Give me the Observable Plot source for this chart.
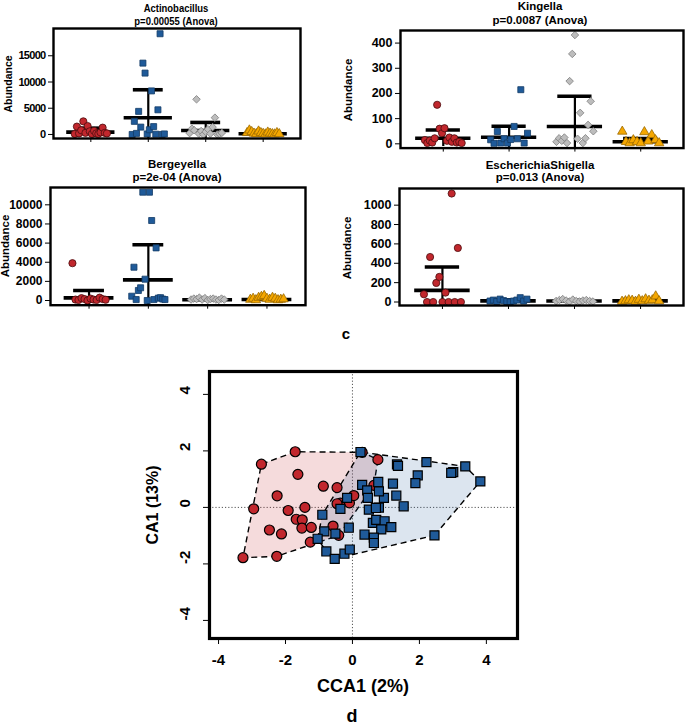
<!DOCTYPE html>
<html><head><meta charset="utf-8">
<script src="https://cdn.jsdelivr.net/npm/d3@7"></script>
<script src="https://cdn.jsdelivr.net/npm/@observablehq/plot@0.6"></script>
<style>
body{margin:0;background:#fff;}
#page{position:relative;width:685px;height:725px;overflow:hidden;font-family:"Liberation Sans",Arial,sans-serif;color:#000;}
.box{position:absolute;}
.t{position:absolute;white-space:nowrap;transform:translate(-50%,-50%);font-weight:bold;line-height:1;}
.rot{transform:translate(-50%,-50%) rotate(-90deg);}
.narrow{transform:translate(-50%,-50%) scaleX(0.86);}
#p0 text{letter-spacing:-0.7px;}
</style></head><body><div id="page"></div>
<script>
// ---------- data: panel c ----------
const taxa = ["Actinobacillus", "Kingella", "Bergeyella", "EscherichiaShigella"];
const pLabels = ["p=0.00055 (Anova)", "p=0.0087 (Anova)", "p=2e-04 (Anova)", "p=0.013 (Anova)"];

const actRed    = [100, 1500, 200, 800, 2500, 300, 1600, 600, 100, 700, 200, 100, 400, 1300, 300, 200];
const actBlue   = [0, 2500, 200, 4400, 1400, 13600, 11700, 100, 900, 8300, 1500, 50, 4700, 19200, 0, 100];
const actGray   = [250, 1100, 800, 6700, 150, 650, 0, 500, 1000, 150, 1400, 3200, 0, 100, 300];
const actOrange = [300, 800, 500, 200, 100, 600, 300, 150, 50, 400, 200, 100, 50, 300, 100];
const actMean = [450, 3180, 760, 130];
const actSd   = [750, 5340, 1530, 200];
const actTicks = [0, 5000, 10000, 15000];

const kinRed    = [15, 3, 13, 5, 22, 155, 60, 42, 62, 12, 25, 8, 22, 5, 8, 3];
const kinBlue   = [16, 2, 49, 3, 20, 3, 17, 69, 20, 215, 3, 42];
const kinGray   = [8, 22, 12, 25, 3, 249, 357, 432, 20, 123, 3, 22, 75, 169, 50];
const kinOrange = [49, 8, 3, 15, 8, 3, 47, 10, 35, 15, 3];
const kinMean = [22, 26, 69, 8];
const kinSd   = [33, 44, 120, 13];
const kinTicks = [0, 100, 200, 300, 400];

const berRed    = [3900, 100, 50, 250, 150, 0, 200, 100, 50, 300, 150, 80];
const berBlue   = [450, 3480, 100, 1050, 1330, 11320, 2230, 0, 11320, 8360, 100, 5500, 250, 300, 150, 100];
const berGray   = [100, 200, 150, 300, 100, 250, 50, 150, 200, 100, 50, 200, 100];
const berOrange = [100, 200, 50, 300, 400, 500, 200, 100, 300, 200, 50, 100, 150];
const berMean = [280, 2160, 80, 100];
const berSd   = [770, 3660, 90, 130];
const berTicks = [0, 2000, 4000, 6000, 8000, 10000];

const escRed    = [80, 0, 465, 0, 197, 259, 0, 97, 0, 1120, 0, 558, 0];
const escBlue   = [10, 20, 5, 30, 15, 5, 0, 10, 20, 45, 10, 30];
const escGray   = [10, 20, 30, 15, 5, 25, 10, 5, 15, 20, 10, 5];
const escOrange = [5, 10, 20, 15, 5, 25, 10, 30, 15, 20, 60, 10];
const escMean = [120, 12, 10, 12];
const escSd   = [242, 12, 8, 14];
const escTicks = [0, 200, 400, 600, 800, 1000];

// ---------- data: panel d (CCA) ----------
const redX = [-3.27, -2.26, -2.95, -2.72, -1.71, -1.63, -2.25, -1.92, -1.42, -1.68, -1.50, -1.51, -1.23, -2.48, -2.12, -1.26, -0.87, -0.46, -0.58, -0.41, -0.36, -0.09, 0.04, 0.29, 0.76, 0.64, -0.46];
const redY = [-1.78, -1.73, -0.05, 1.53, 1.97, 1.17, 0.41, -0.11, 0.00, -0.42, -0.44, -0.73, -0.71, -0.80, -0.94, -1.23, 0.75, 0.70, -0.66, -0.99, 0.15, 0.16, 0.42, 1.95, 1.69, 0.78, 0.13];
const blueX = [0.24, 1.33, 2.21, 3.01, 3.37, 3.82, 2.45, 1.95, 1.88, 1.21, 1.31, 1.53, 0.94, 0.77, 0.29, 0.44, 0.79, 0.46, -0.16, -0.36, 0.49, 0.79, -0.90, -0.84, -1.04, -0.51, -0.11, -0.78, -0.53, -0.24, -0.08, 0.36, 0.61, 0.71, 0.96, 0.86, 1.16, 0.64, 0.64, 1.36, 2.95, 0.70];
const blueY = [1.96, 1.52, 1.60, 1.25, 1.45, 0.92, -0.99, 1.13, 0.86, 0.84, 0.42, 0.04, 0.34, 0.90, 0.80, 0.60, 0.57, 0.34, 0.34, -0.05, -0.08, -0.01, -0.26, -0.85, -1.11, -0.93, -0.72, -1.56, -1.82, -1.64, -1.49, -0.96, -0.55, -0.44, -0.49, -0.78, -0.70, -1.07, -1.26, 1.47, 1.22, -0.02];
const ccaTicks = [-4, -2, 0, 2, 4];

// ---------- style ----------
const groupFill   = ["#c1272d", "#1f5a99", "#bdbdbd", "#f5a700"];
const groupStroke = ["#4a0c0e", "#133b66", "#7d7d7d", "#9a6a00"];
const groupSymbol = ["circle", "square", "diamond2", "triangle"];
const groupR      = [3.6, 3.4, 3.4, 3.5];
const FONT = "'Liberation Sans', Arial, sans-serif";

const page = document.getElementById("page");
function addText(x, y, txt, size, cls) {
  const d = document.createElement("div");
  d.className = "t" + (cls ? " " + cls : "");
  d.style.left = x + "px"; d.style.top = y + "px"; d.style.fontSize = size + "px";
  d.textContent = txt;
  page.appendChild(d);
}

const panels = [
  {groups: [actRed, actBlue, actGray, actOrange], means: actMean, sds: actSd, ticks: actTicks,
   yDomain: [-770, 20200], box: [0, 0, 340, 158], frame: [53, 28, 300, 138], font: 11},
  {groups: [kinRed, kinBlue, kinGray, kinOrange], means: kinMean, sds: kinSd, ticks: kinTicks,
   yDomain: [-17, 450], box: [340, 0, 345, 158], frame: [400, 30, 683, 147.6], font: 12.5},
  {groups: [berRed, berBlue, berGray, berOrange], means: berMean, sds: berSd, ticks: berTicks,
   yDomain: [-490, 11810], box: [0, 158, 340, 160], frame: [50, 187, 305, 304.7], font: 12},
  {groups: [escRed, escBlue, escGray, escOrange], means: escMean, sds: escSd, ticks: escTicks,
   yDomain: [-36, 1172], box: [340, 158, 345, 160], frame: [399, 188, 683, 305], font: 12.5}
];

panels.forEach((p, k) => {
  const pts = [];
  p.groups.forEach((vals, g) => {
    const n = vals.length;
    vals.forEach((v, i) => pts.push({g, cx: g + 1 - 0.28 + 0.56 * i / (n - 1), v}));
  });
  const stats = p.means.map((m, g) => ({cx: g + 1, m, s: p.sds[g]}));
  const [bl, bt, bw, bh] = p.box;
  const [fl, ft, fr, fb] = p.frame;
  const chart = Plot.plot({
    width: bw, height: bh,
    marginLeft: fl - bl, marginTop: ft - bt, marginRight: bl + bw - fr, marginBottom: bt + bh - fb,
    x: {domain: [0.35, 4.65]},
    y: {domain: p.yDomain},
    style: {background: "none", fontFamily: FONT, overflow: "visible"},
    marks: [
      Plot.axisX({ticks: [1, 2, 3, 4], tickSize: 4, tickFormat: () => "", label: null}),
      Plot.axisY({ticks: p.ticks, tickSize: 5, tickPadding: 3, tickFormat: d => String(d), label: null,
                  fontSize: p.font, fontWeight: "bold"}),
      Plot.ruleY(stats, {y: "m", x1: d => d.cx - 0.42, x2: d => d.cx + 0.42, strokeWidth: 3.6, clip: true}),
      Plot.ruleY(stats, {y: d => d.m + d.s, x1: d => d.cx - 0.26, x2: d => d.cx + 0.26, strokeWidth: 3.6, clip: true}),
      Plot.ruleX(stats, {x: "cx", y1: d => d.m - d.s, y2: d => d.m + d.s, strokeWidth: 2.2, clip: true}),
      ...[0, 1, 2, 3].map(g => Plot.dot(pts.filter(d => d.g === g), {
        x: "cx", y: "v", symbol: groupSymbol[g], r: groupR[g],
        fill: groupFill[g], stroke: groupStroke[g], strokeWidth: 0.8, clip: true})),
      Plot.frame({strokeWidth: 2.4})
    ]
  });
  chart.id = "p" + k;
  const wrap = document.createElement("div");
  wrap.className = "box";
  wrap.style.left = bl + "px"; wrap.style.top = bt + "px";
  wrap.appendChild(chart);
  page.appendChild(wrap);
});

// panel titles and y labels
addText(176, 8, taxa[0], 11, "narrow");
addText(176, 20.5, pLabels[0], 11, "narrow");
addText(540, 7, taxa[1], 11.5);
addText(540, 20.5, pLabels[1], 11.5);
addText(177, 165, taxa[2], 11.5);
addText(177, 177.5, pLabels[2], 11.5);
addText(540, 166, taxa[3], 11.5);
addText(540, 178, pLabels[3], 11.5);
addText(8, 84, "Abundance", 10.5, "rot");
addText(349, 90, "Abundance", 11.5, "rot");
addText(6, 246, "Abundance", 11.5, "rot");
addText(348, 248, "Abundance", 11.5, "rot");
addText(346, 333, "c", 15);

// ---------- panel d ----------
const red = redX.map((x, i) => ({x, y: redY[i]}));
const blue = blueX.map((x, i) => ({x, y: blueY[i]}));
const cca = Plot.plot({
  width: 685, height: 395,
  marginLeft: 209, marginTop: 41, marginRight: 168, marginBottom: 87,
  x: {domain: [-4.27, 4.93]},
  y: {domain: [-4.64, 4.81]},
  style: {background: "none", fontFamily: FONT, overflow: "visible"},
  marks: [
    Plot.ruleX([0], {stroke: "#555", strokeDasharray: "1.2,2", strokeWidth: 1}),
    Plot.ruleY([0], {stroke: "#555", strokeDasharray: "1.2,2", strokeWidth: 1}),
    Plot.hull(red, {x: "x", y: "y", fill: "#c1272d", fillOpacity: 0.17, stroke: "#000", strokeDasharray: "6,4", strokeWidth: 1.4}),
    Plot.hull(blue, {x: "x", y: "y", fill: "#1f5a99", fillOpacity: 0.155, stroke: "#000", strokeDasharray: "6,4", strokeWidth: 1.4}),
    Plot.dot(red, {x: "x", y: "y", r: 5, fill: "#c1272d", stroke: "#000", strokeWidth: 1.2}),
    Plot.dot(blue, {x: "x", y: "y", symbol: "square", r: 5.1, fill: "#1f5a99", stroke: "#000", strokeWidth: 1.2}),
    Plot.axisX({ticks: ccaTicks, tickSize: 6, tickPadding: 10, tickFormat: d => String(d), label: null,
                fontSize: 15, fontWeight: "bold"}),
    Plot.axisY({ticks: ccaTicks, tickSize: 6, tickFormat: () => "", label: null}),
    Plot.text(ccaTicks, {y: d => d, text: d => String(d), frameAnchor: "left", rotate: -90, dx: -24,
                         fontSize: 15, fontWeight: "bold"}),
    Plot.frame({strokeWidth: 3.2})
  ]
});
const wrapD = document.createElement("div");
wrapD.className = "box";
wrapD.style.left = "0px"; wrapD.style.top = "330px";
wrapD.appendChild(cca);
page.appendChild(wrapD);

addText(363, 686, "CCA1 (2%)", 18);
addText(153, 505, "CA1 (13%)", 16, "rot");
addText(352, 716, "d", 18);
</script></body></html>
